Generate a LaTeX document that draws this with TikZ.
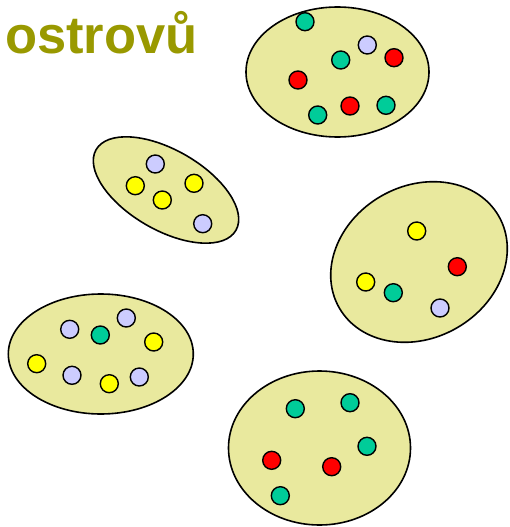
\documentclass[tikz,border=0pt]{standalone}
\usepackage{fontspec}
\setmainfont{Liberation Sans}
\definecolor{isl}{RGB}{233,233,158}
\definecolor{dgreen}{RGB}{0,204,153}
\definecolor{dlav}{RGB}{204,204,255}
\definecolor{dyel}{RGB}{255,255,0}
\definecolor{dred}{RGB}{255,0,0}
\definecolor{olive}{RGB}{153,153,0}
\tikzset{
  island/.style={draw=black, fill=isl, line width=1.6pt},
  dot/.style={circle, draw=black, line width=1.4pt, minimum size=18pt, inner sep=0pt},
  g/.style={dot, fill=dgreen},
  l/.style={dot, fill=dlav},
  yl/.style={dot, fill=dyel},
  rd/.style={dot, fill=dred},
}
\begin{document}
\begin{tikzpicture}[x=1pt,y=-1pt]
\useasboundingbox (0,0) rectangle (509,527);
\node[anchor=base west, inner sep=0pt, text=olive, font=\fontsize{52.5}{60}\selectfont\bfseries] (title) at (5,53) {ostrovů};
% island 1
\draw[island] (337.5,72) ellipse [x radius=91.5, y radius=65];
\node[g] (a1) at (305,21.7) {};
\node[l] (a2) at (367.3,45) {};
\node[g] (a3) at (340.7,60) {};
\node[rd] (a4) at (394,57.7) {};
\node[rd] (a5) at (298,80) {};
\node[rd] (a6) at (350,106) {};
\node[g] (a7) at (386,105.3) {};
\node[g] (a8) at (317.7,115) {};
% island 2
\draw[island, rotate around={-30:(166,190)}] (166,190) ellipse [x radius=80.7, y radius=40];
\node[l] (b1) at (155.3,164) {};
\node[yl] (b2) at (135.3,185.7) {};
\node[yl] (b3) at (194,183.3) {};
\node[yl] (b4) at (162.3,200) {};
\node[l] (b5) at (202.7,223.7) {};
% island 3
\draw[island, rotate around={30:(419,262)}] (419,262) ellipse [x radius=92, y radius=76];
\node[yl] (c1) at (416.7,231) {};
\node[rd] (c2) at (457.3,266.7) {};
\node[yl] (c3) at (365.7,282) {};
\node[g] (c4) at (393.3,292.7) {};
\node[l] (c5) at (440,308) {};
% island 4
\draw[island] (100.8,354) ellipse [x radius=92.5, y radius=60];
\node[l] (d1) at (69.7,329.3) {};
\node[g] (d2) at (100.3,335) {};
\node[l] (d3) at (126.3,318) {};
\node[yl] (d4) at (153.7,342) {};
\node[yl] (d5) at (36.7,363.7) {};
\node[l] (d6) at (72,375.3) {};
\node[yl] (d7) at (109.3,383.7) {};
\node[l] (d8) at (139.3,377) {};
% island 5
\draw[island] (319.5,448) ellipse [x radius=91, y radius=77];
\node[g] (e1) at (295.3,408.7) {};
\node[g] (e2) at (350,402.7) {};
\node[g] (e3) at (367,446.3) {};
\node[rd] (e4) at (271.7,460.3) {};
\node[rd] (e5) at (331.7,466.7) {};
\node[g] (e6) at (280.3,495.7) {};
\end{tikzpicture}
\end{document}
